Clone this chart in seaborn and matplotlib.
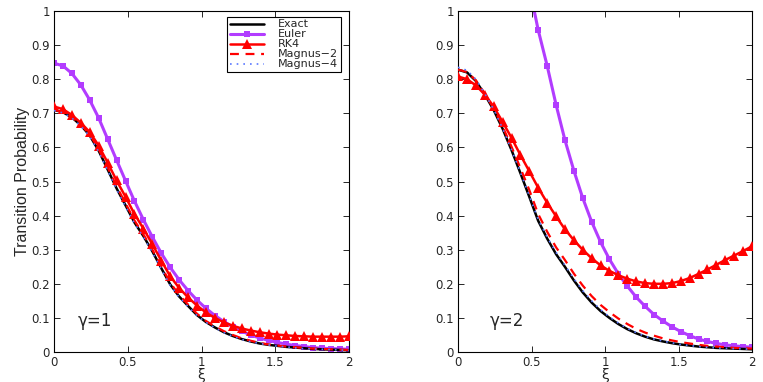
import numpy as np
import pandas as pd
import matplotlib
matplotlib.use("Agg")
import matplotlib.pyplot as plt
import seaborn as sns

# ── Data ──────────────────────────────────────────────────
xi = [0.0, 0.061, 0.121, 0.182, 0.242, 0.303, 0.364, 0.424, 0.485, 0.545,
      0.606, 0.667, 0.727, 0.788, 0.848, 0.909, 0.970, 1.030, 1.091, 1.152,
      1.212, 1.273, 1.333, 1.394, 1.455, 1.515, 1.576, 1.636, 1.697, 1.758,
      1.818, 1.879, 1.939, 2.0]

# gamma = 1
exact_g1 = [0.710, 0.703, 0.688, 0.665, 0.635, 0.590, 0.535, 0.480, 0.430, 0.380,
            0.340, 0.295, 0.246, 0.198, 0.163, 0.135, 0.108, 0.088, 0.072, 0.058,
            0.047, 0.038, 0.031, 0.025, 0.021, 0.018, 0.015, 0.013, 0.011, 0.009,
            0.008, 0.007, 0.006, 0.005]
euler_g1 = [0.847, 0.839, 0.817, 0.783, 0.739, 0.686, 0.624, 0.563, 0.502, 0.443,
            0.388, 0.337, 0.290, 0.248, 0.212, 0.180, 0.152, 0.128, 0.107, 0.089,
            0.074, 0.061, 0.050, 0.041, 0.034, 0.028, 0.023, 0.019, 0.016, 0.013,
            0.011, 0.010, 0.009, 0.008]
rk4_g1 = [0.720, 0.712, 0.695, 0.672, 0.645, 0.605, 0.555, 0.503, 0.455, 0.405,
          0.362, 0.316, 0.268, 0.222, 0.188, 0.160, 0.136, 0.116, 0.100, 0.087,
          0.077, 0.069, 0.063, 0.058, 0.054, 0.051, 0.049, 0.047, 0.046, 0.045,
          0.045, 0.045, 0.045, 0.046]
magnus2_g1 = [0.710, 0.704, 0.689, 0.667, 0.638, 0.595, 0.541, 0.486, 0.436, 0.386,
              0.345, 0.300, 0.251, 0.203, 0.168, 0.139, 0.112, 0.091, 0.075, 0.061,
              0.050, 0.040, 0.033, 0.027, 0.022, 0.019, 0.016, 0.014, 0.012, 0.010,
              0.009, 0.008, 0.007, 0.006]
magnus4_g1 = [0.708, 0.701, 0.686, 0.663, 0.632, 0.587, 0.532, 0.477, 0.427, 0.377,
              0.337, 0.292, 0.243, 0.196, 0.161, 0.133, 0.107, 0.087, 0.071, 0.057,
              0.046, 0.037, 0.030, 0.025, 0.021, 0.017, 0.015, 0.012, 0.010, 0.009,
              0.008, 0.007, 0.006, 0.005]

# gamma = 2
exact_g2 = [0.828, 0.820, 0.795, 0.755, 0.710, 0.655, 0.592, 0.525, 0.455, 0.385,
            0.333, 0.287, 0.250, 0.210, 0.175, 0.145, 0.120, 0.100, 0.082, 0.067,
            0.055, 0.045, 0.037, 0.031, 0.026, 0.022, 0.019, 0.016, 0.014, 0.012,
            0.011, 0.010, 0.009, 0.008]
euler_g2 = [np.nan, np.nan, np.nan, np.nan, np.nan, np.nan, np.nan, 1.200, 1.070, 0.945,
            0.840, 0.725, 0.622, 0.532, 0.452, 0.382, 0.322, 0.272, 0.229, 0.193,
            0.161, 0.134, 0.110, 0.091, 0.074, 0.060, 0.048, 0.038, 0.031, 0.025,
            0.021, 0.018, 0.016, 0.014]
rk4_g2 = [0.808, 0.800, 0.782, 0.755, 0.720, 0.675, 0.628, 0.578, 0.530, 0.482,
          0.438, 0.398, 0.360, 0.328, 0.300, 0.275, 0.254, 0.238, 0.225, 0.215,
          0.207, 0.202, 0.200, 0.200, 0.202, 0.208, 0.217, 0.229, 0.242, 0.256,
          0.270, 0.283, 0.296, 0.310]
magnus2_g2 = [0.828, 0.821, 0.797, 0.758, 0.715, 0.662, 0.602, 0.540, 0.475, 0.405,
              0.353, 0.307, 0.270, 0.230, 0.195, 0.164, 0.138, 0.117, 0.098, 0.082,
              0.068, 0.057, 0.048, 0.040, 0.034, 0.029, 0.025, 0.021, 0.018, 0.016,
              0.014, 0.012, 0.011, 0.010]
magnus4_g2 = [0.835, 0.826, 0.800, 0.758, 0.712, 0.656, 0.593, 0.527, 0.458, 0.389,
              0.337, 0.292, 0.255, 0.215, 0.180, 0.150, 0.124, 0.103, 0.085, 0.069,
              0.057, 0.046, 0.038, 0.032, 0.027, 0.022, 0.019, 0.016, 0.014, 0.012,
              0.011, 0.010, 0.009, 0.008]

gamma_labels = ["\u03b3=1", "\u03b3=2"]
y_ticks = [0, 0.1, 0.2, 0.3, 0.4, 0.5, 0.6, 0.7, 0.8, 0.9, 1]
y_tick_labels = ["0", "0.1", "0.2", "0.3", "0.4", "0.5", "0.6", "0.7", "0.8", "0.9", "1"]
x_ticks = [0, 0.5, 1, 1.5, 2]
x_tick_labels = ["0", "0.5", "1", "1.5", "2"]

# ── Styles ────────────────────────────────────────────────
PURPLE = "#B23CFF"
RED = "#FF0000"
BLUE = "#5A78FF"

sns.set_style("ticks")
plt.rcParams["font.family"] = ["DejaVu Sans"]

fig = plt.figure(figsize=(7.63, 3.82), dpi=100)
ax1 = fig.add_axes([0.0708, 0.0785, 0.3866, 0.8927])
ax2 = fig.add_axes([0.6003, 0.0785, 0.3853, 0.8927])

panels = [
    (ax1, exact_g1, euler_g1, rk4_g1, magnus2_g1, magnus4_g1, gamma_labels[0], 0.163),
    (ax2, exact_g2, euler_g2, rk4_g2, magnus2_g2, magnus4_g2, gamma_labels[1], 0.215),
]

for ax, ex, eu, rk, m2, m4, glabel, gx in panels:
    sns.lineplot(x=xi, y=ex, ax=ax, color="black", linewidth=1.8, label="Exact",
                 estimator=None, sort=False, zorder=3)
    sns.lineplot(x=xi, y=eu, ax=ax, color=PURPLE, linewidth=2.2, marker="s",
                 markersize=5, markeredgewidth=0, label="Euler",
                 estimator=None, sort=False, zorder=2)
    sns.lineplot(x=xi, y=rk, ax=ax, color=RED, linewidth=1.8, marker="^",
                 markersize=6.5, markeredgewidth=0, label="RK4",
                 estimator=None, sort=False, zorder=4)
    sns.lineplot(x=xi, y=m2, ax=ax, color=RED, linewidth=1.6, linestyle=(0, (4, 3)),
                 label="Magnus\u22122", estimator=None, sort=False, zorder=5)
    sns.lineplot(x=xi, y=m4, ax=ax, color=BLUE, linewidth=1.2, linestyle=(0, (1, 3)),
                 label="Magnus\u22124", estimator=None, sort=False, zorder=6)

    ax.set_xlim(0, 2)
    ax.set_ylim(0, 1)
    ax.set_xticks(x_ticks)
    ax.set_xticklabels(x_tick_labels)
    ax.set_yticks(y_ticks)
    ax.set_yticklabels(y_tick_labels)
    ax.tick_params(direction="in", top=True, right=True, length=4, width=0.7,
                   labelsize=8.5, pad=3)
    for spine in ax.spines.values():
        spine.set_linewidth(0.8)
        spine.set_color("black")
    ax.set_xlabel("\u03be", fontsize=10, labelpad=-1)
    ax.text(gx, 0.075, glabel, fontsize=12)

ax1.set_ylabel("Transition Probability", fontsize=11.5, labelpad=1,
               family=["Liberation Sans Narrow", "Liberation Sans", "DejaVu Sans"])
ax2.set_ylabel("")
ax2.get_legend().remove()

leg = ax1.legend(loc="upper right", bbox_to_anchor=(0.98, 0.99), fontsize=8,
                 frameon=True, fancybox=False, edgecolor="black", framealpha=1,
                 handlelength=3.0, handletextpad=1.3, labelspacing=0.0,
                 borderpad=0.25, borderaxespad=0.2)
leg.get_frame().set_linewidth(0.8)

fig.savefig("out.png", dpi=100)
